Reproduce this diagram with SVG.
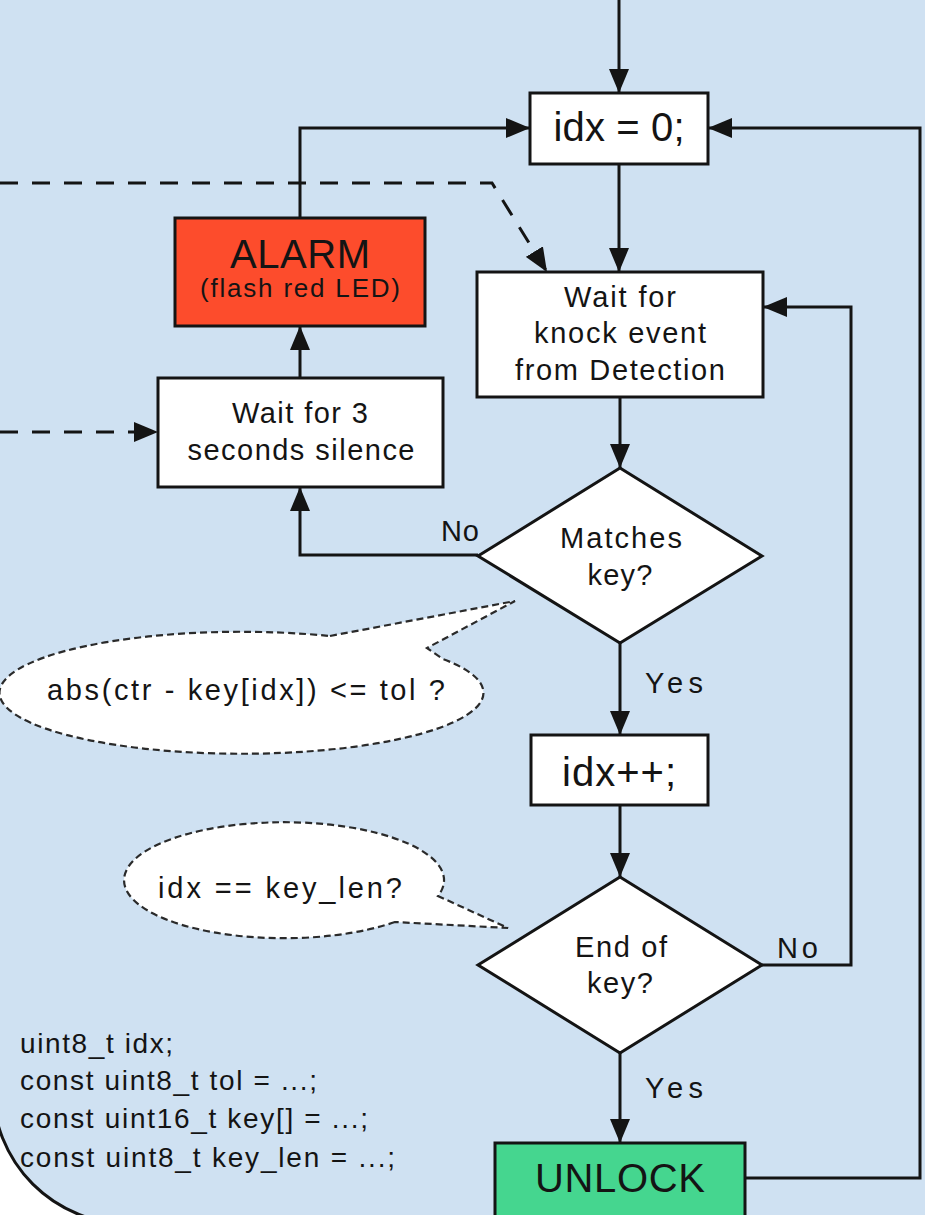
<svg xmlns="http://www.w3.org/2000/svg" width="925" height="1215" viewBox="0 0 925 1215">
<style>
text{font-family:"Liberation Sans",Arial,sans-serif;fill:#141414}
.box{stroke:#141414;stroke-width:3}
.c{font-size:29px;text-anchor:middle}
.big{font-size:40px;text-anchor:middle}
.lbl{font-size:29px}
.code{font-size:28px}
.ln{fill:none;stroke:#141414;stroke-width:3}
.dash{fill:none;stroke:#141414;stroke-width:3;stroke-dasharray:18 14}
.call{fill:#ffffff;stroke:#2a2a2a;stroke-width:2.2;stroke-dasharray:7 4}
</style>
<defs>
<marker id="ah" viewBox="0 0 24 20" refX="24" refY="10" markerWidth="24" markerHeight="20" markerUnits="userSpaceOnUse" orient="auto">
<path d="M0,0 L24,10 L0,20 z" fill="#141414"/>
</marker>
</defs>
<rect x="0" y="0" width="925" height="1215" fill="#ffffff"/>
<rect x="-7" y="-200" width="1300" height="1424" rx="136" ry="136" fill="#cfe1f2" stroke="#141414" stroke-width="3"/>

<g id="connectors">
<path class="ln" d="M619,0 V93" marker-end="url(#ah)"/>
<path class="ln" d="M619,164 V272" marker-end="url(#ah)"/>
<path class="ln" d="M620,397 V468" marker-end="url(#ah)"/>
<path class="ln" d="M478,555 H300 V487" marker-end="url(#ah)"/>
<path class="ln" d="M620,643 V735" marker-end="url(#ah)"/>
<path class="ln" d="M620,805 V877" marker-end="url(#ah)"/>
<path class="ln" d="M762,965 H851 V307 H763" marker-end="url(#ah)"/>
<path class="ln" d="M620,1053 V1143" marker-end="url(#ah)"/>
<path class="ln" d="M745,1178 H920 V128 H708" marker-end="url(#ah)"/>
<path class="ln" d="M300,378 V326" marker-end="url(#ah)"/>
<path class="ln" d="M300,218 V128 H530" marker-end="url(#ah)"/>
<path class="dash" d="M0,183 H492 L547,272" marker-end="url(#ah)"/>
<path class="dash" d="M0,432 H158" marker-end="url(#ah)"/>
<text class="lbl" x="441" y="541" textLength="38">No</text>
<text class="lbl" x="645" y="693" textLength="58">Yes</text>
<text class="lbl" x="777" y="958" textLength="41">No</text>
<text class="lbl" x="645" y="1098" textLength="58">Yes</text>
</g>

<g id="idx0">
<rect class="box" x="530" y="93" width="178" height="71" fill="#ffffff"/>
<text class="big" x="619" y="141" textLength="131">idx = 0;</text>
</g>

<g id="alarm">
<rect class="box" x="175" y="218" width="250" height="108" fill="#fd4c2c"/>
<text class="big" x="300" y="268" textLength="140">ALARM</text>
<text x="300" y="297" style="font-size:26px;text-anchor:middle" textLength="200">(flash red LED)</text>
</g>

<g id="waitKnock">
<rect class="box" x="477" y="272" width="286" height="125" fill="#ffffff"/>
<text class="c" x="620" y="307" textLength="112">Wait for</text>
<text class="c" x="620" y="343" textLength="172">knock event</text>
<text class="c" x="620" y="380" textLength="210">from Detection</text>
</g>

<g id="wait3">
<rect class="box" x="158" y="378" width="285" height="109" fill="#ffffff"/>
<text class="c" x="300" y="423" textLength="136">Wait for 3</text>
<text class="c" x="301" y="460" textLength="227">seconds silence</text>
</g>

<g id="matches">
<path class="box" d="M620,468 L762,556 L620,643 L478,556 Z" fill="#ffffff"/>
<text class="c" x="621" y="548" textLength="122">Matches</text>
<text class="c" x="620" y="585" textLength="65">key?</text>
</g>

<g id="idxInc">
<rect class="box" x="531" y="735" width="177" height="70" fill="#ffffff"/>
<text class="big" x="619" y="786" textLength="114">idx++;</text>
</g>

<g id="endKey">
<path class="box" d="M620,877 L762,965 L620,1053 L478,965 Z" fill="#ffffff"/>
<text class="c" x="621" y="957" textLength="92">End of</text>
<text class="c" x="620" y="993" textLength="66">key?</text>
</g>

<g id="unlock">
<rect class="box" x="495" y="1143" width="250" height="100" fill="#45d68f"/>
<text class="big" x="620" y="1192" textLength="170">UNLOCK</text>
</g>

<g id="callout1">
<path class="call" d="M330,636 L515,601 L427,648 L443,659 A242,61 0 1 1 330,636 Z"/>
<text class="c" x="246" y="700" textLength="398">abs(ctr - key[idx]) &lt;= tol ?</text>
</g>

<g id="callout2">
<path class="call" d="M395,922 A160,58 0 1 1 438,896 L508,928 Z"/>
<text class="c" x="280" y="898" textLength="244">idx == key_len?</text>
</g>

<g id="code">
<text class="code" x="20" y="1053" textLength="153">uint8_t idx;</text>
<text class="code" x="20" y="1090" textLength="297">const uint8_t tol = ...;</text>
<text class="code" x="20" y="1128" textLength="348">const uint16_t key[] = ...;</text>
<text class="code" x="20" y="1167" textLength="375">const uint8_t key_len = ...;</text>
</g>
</svg>
